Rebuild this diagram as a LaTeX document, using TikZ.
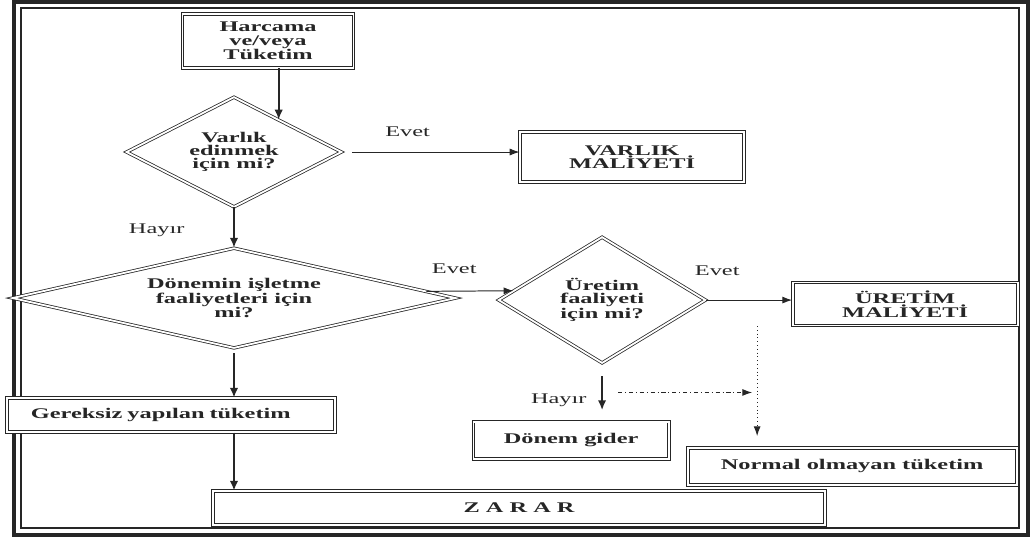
\documentclass[tikz,border=0pt]{standalone}
\usepackage{fontspec}
\setmainfont{Liberation Serif}[FakeStretch=1.65]
\usetikzlibrary{shapes,arrows.meta,positioning}

\begin{document}
\begin{tikzpicture}[x=0.025cm, y=-0.025cm, node distance=2cm, auto,
    color=black!85, font=\fontsize{10.5}{9.5}\selectfont]
  \tikzstyle{decision} = [diamond, draw, double, double distance=1.3pt,
    line width=0.55pt, fill=white, align=center, inner sep=0pt,
    font=\fontsize{10.5}{9.5}\selectfont\bfseries]
  \tikzstyle{block} = [rectangle, draw, double, double distance=1.3pt,
    line width=0.7pt, fill=white, align=center,
    font=\fontsize{10.5}{9.5}\selectfont\bfseries]
  \tikzstyle{line} = [draw, line width=0.7pt, -{Latex[length=7pt, width=5pt]}]
  \tikzstyle{vline} = [draw, line width=1.2pt, -{Latex[length=7pt, width=6pt]}]

  % Frame
  \useasboundingbox (0,0) rectangle (1035,537);
  \draw [line width=2.2pt] (14,2) rectangle (1028,535);
  \draw [line width=0.9pt] (21,8) rectangle (1019,528);

  % Place nodes
  \node [block, minimum width=4.275cm, minimum height=1.35cm] (harcama)
    at (268,41) {Harcama\\ve/veya\\Tüketim};
  \node [decision, below of=harcama, node distance=2.775cm, xshift=-0.85cm,
    minimum width=5.375cm, minimum height=2.75cm, aspect=2] (varlik)
    {Varlık\\edinmek\\için mi?};
  \node [block, right of=varlik, node distance=9.95cm, yshift=-0.125cm,
    minimum width=5.6cm, minimum height=1.25cm] (varlikmal) {VARLIK\\MALİYETİ};
  \node [decision, below of=varlik, node distance=3.65cm,
    minimum width=11.075cm, minimum height=2.5cm, aspect=4.4] (donemin)
    {Dönemin işletme\\faaliyetleri için\\mi?};
  \node [decision, right of=donemin, node distance=9.2cm, yshift=-0.05cm,
    minimum width=5.175cm, minimum height=3.15cm, aspect=1.6] (uretim)
    {Üretim\\faaliyeti\\için mi?};
  \node [block, right of=uretim, node distance=7.575cm, yshift=-0.1cm,
    minimum width=5.625cm, minimum height=1.075cm] (uretimmal) {ÜRETİM\\MALİYETİ};
  \node [block, below of=donemin, node distance=2.925cm, xshift=-1.575cm,
    minimum width=8.2cm, minimum height=0.85cm, text width=7cm, align=left]
    (gereksiz) {Gereksiz yapılan tüketim};
  \node [block, below of=gereksiz, node distance=2.325cm, xshift=8.7cm,
    minimum width=15.3cm, minimum height=0.85cm] (zarar) {Z A R A R};
  \node [block, below of=uretim, node distance=3.5cm, xshift=-0.775cm,
    minimum width=4.875cm, minimum height=0.925cm] (donemgider) {Dönem gider};
  \node [block, below of=uretimmal, node distance=4.05cm, xshift=-1.325cm,
    minimum width=8.225cm, minimum height=0.925cm] (normal)
    {Normal olmayan tüketim};

  \coordinate (dotstart) at ([xshift=-0.875cm]uretimmal.south west);
  \coordinate (dashstart) at ([xshift=0.4cm, yshift=-0.725cm]uretim.south);

  % Draw edges
  \path [vline] (harcama.south -| varlik.36) -- (varlik.36);
  \path [line, shorten <=0.25cm] (varlik.east) --
    node [pos=0.37, above=0.25cm] {Evet} (varlik.east -| varlikmal.west);
  \path [vline] (varlik.south) --
    node [pos=0.56, left=1.1cm] {Hayır} (donemin.north);
  \path [line] (donemin.2) -- node [pos=0.32, above=0.3cm] {Evet} (uretim.174);
  \path [line] (uretim.east) --
    node [pos=0.13, above=0.475cm] {Evet} (uretim.east -| uretimmal.west);
  \path [vline, shorten <=0.125cm] (donemin.south) -- (donemin.south |- gereksiz.north);
  \path [vline] (donemin.south |- gereksiz.south) -- (donemin.south |- zarar.north);
  \path [vline, shorten <=0.325cm, shorten >=0.275cm] (uretim.south) --
    node [pos=0.63, left=0.25cm] {Hayır} (uretim.south |- donemgider.north);
  \path [line, dotted, shorten >=0.275cm] (dotstart) -- (dotstart |- normal.north);
  \path [line, dash dot, shorten >=0.125cm] (dashstart) -- (dashstart -| dotstart);

\end{tikzpicture}
\end{document}
